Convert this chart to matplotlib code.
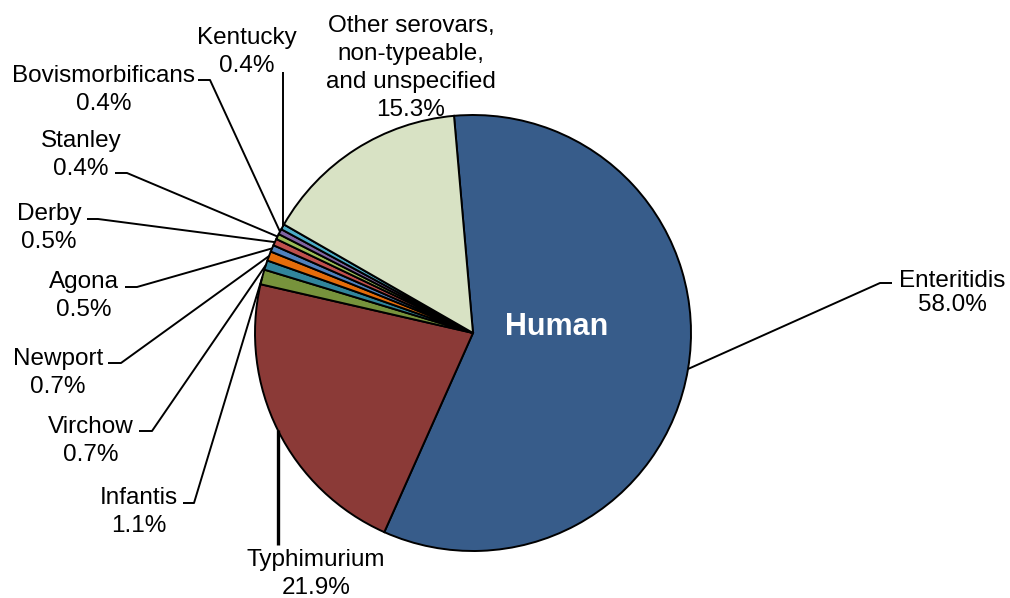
import numpy as np
import matplotlib
matplotlib.use('Agg')
import matplotlib.pyplot as plt

# ── data ──────────────────────────────────────────────────────────────────────
serovars = ['Enteritidis', 'Typhimurium', 'Infantis', 'Virchow', 'Newport',
            'Agona', 'Derby', 'Stanley', 'Bovismorbificans', 'Kentucky',
            'Other serovars,\nnon-typeable,\nand unspecified']
shares   = [58.0, 21.9, 1.1, 0.7, 0.7, 0.5, 0.5, 0.4, 0.4, 0.4, 15.3]
colors   = ['#375C8A', '#8B3A37', '#77933C', '#31859C', '#E46C0A',
            '#4F81BD', '#C0504D', '#9BBB59', '#8064A2', '#4BACC6', '#D8E2C4']

W, H = 1010, 598
FONT = 'Liberation Sans'

# label layout in pixels from top-left: text centre, leader path after edge
# (None for the path means no leader line)
label_pos = [(952, 293), (316, 574), (139, 512), (91, 441), (58, 373),
             (84, 296), (49, 228), (81, 155), (104, 90), (247, 52),
             (411, 68)]
leaders   = [[(880, 283), (892, 283)],
             [('v', 545)],
             [(194, 503), (183, 503)],
             [(152, 431), (139, 431)],
             [(121, 363), (108, 363)],
             [(137, 287), (125, 287)],
             [(98, 219), (87, 219)],
             [(127, 173), (115, 173)],
             [(210, 80), (198, 80)],
             [('v', 72)],
             None]
spacing   = [1.1] + [1.36] * 10

fig = plt.figure(figsize=(W / 100, H / 100), dpi=100)
ax = fig.add_axes([0, 0, 1, 1])

cx, cy, r = 473, H - 333, 218
wedges, _ = ax.pie(shares, colors=colors, startangle=95, counterclock=False,
                   center=(cx, cy), radius=r,
                   wedgeprops=dict(edgecolor='black', linewidth=1.4))
ax.set_xlim(0, W)
ax.set_ylim(0, H)
ax.set_aspect('equal')
ax.axis('off')

for w, name, val, pos, path, ls in zip(wedges, serovars, shares, label_pos,
                                       leaders, spacing):
    ax.text(pos[0], H - pos[1], f'{name}\n{val:.1f}%', ha='center', va='center',
            fontsize=17.5, family=FONT, color='black', linespacing=ls)
    if path is None:
        continue
    mid = np.deg2rad((w.theta1 + w.theta2) / 2)
    ex, ey = cx + r * np.cos(mid), cy + r * np.sin(mid)
    xs, ys = [ex], [ey]
    for px, py in path:
        xs.append(ex if px == 'v' else px)
        ys.append(H - py)
    lw = 2.4 if name == 'Typhimurium' else 1.4
    ax.plot(xs, ys, color='black', lw=lw, solid_capstyle='butt')

ax.text(557, H - 327, 'Human', ha='center', va='center', color='white',
        fontsize=22, fontweight='bold', family=FONT)

fig.savefig('out.png', dpi=100)
plt.close(fig)
